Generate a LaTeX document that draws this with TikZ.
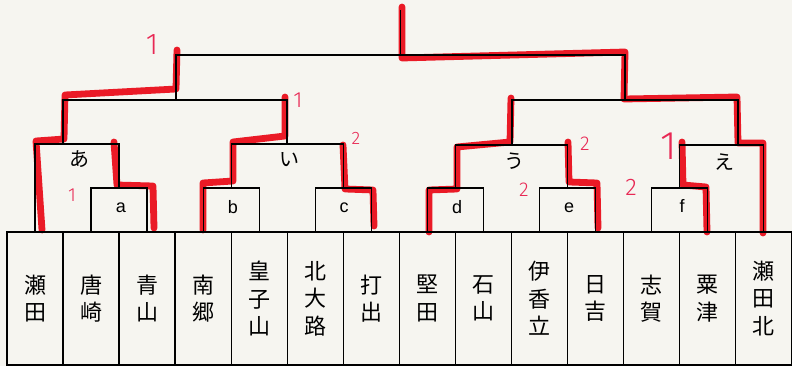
\documentclass[tikz,border=0pt]{standalone}
\usepackage{fontspec}
\setmainfont{Liberation Sans}
\newfontfamily\jp{Noto Sans CJK JP}
\IfFontExistsTF{Fira Sans Light}{\newfontfamily\hand{Fira Sans Light}}{\newfontfamily\hand{Liberation Sans}}
\definecolor{paper}{RGB}{246,245,240}
\definecolor{marker}{RGB}{234,26,38}
\definecolor{pen}{RGB}{232,40,84}
\begin{document}
\begin{tikzpicture}[x=1pt,y=-1pt,
  team/.style={draw, line width=1.3pt, minimum width=56.05pt, minimum height=133pt,
    inner sep=0pt, align=center, font=\jp\fontsize{22}{27.5}\selectfont},
  bracket/.style={line width=1.3pt, black},
  win/.style={marker, line width=6.8pt, line cap=round, line join=round},
  pool/.style={inner sep=0pt, font=\jp\fontsize{20}{20}\selectfont},
  match/.style={inner sep=0pt, font=\fontsize{18}{18}\selectfont},
  score/.style={text=pen, inner sep=0pt, font=\hand\fontsize{20}{20}\selectfont}]
\fill[paper] (0,0) rectangle (792,366);
\useasboundingbox (0,0) rectangle (792,366);

% winners' marker strokes (under the printed lines)
\draw[win] (42,230) -- (36,141) -- (64,139) -- (65,95) -- (176,89) -- (177,50);
\draw[win] (154,228) -- (153,186) -- (117,185) -- (114,142);
\draw[win] (203,230) -- (203,183) -- (233,181) -- (233,142) -- (285,136) -- (285,97);
\draw[win] (374,226) -- (373,190) -- (345,189) -- (343,145);
\draw[win] (429,232) -- (429,190) -- (457,189) -- (457,147) -- (510,142) -- (511,98);
\draw[win] (598,228) -- (597,183) -- (569,182) -- (568,142);
\draw[win] (402,7) -- (402,58) -- (625,52) -- (624,99) -- (737,97) -- (738,143) -- (763,143) -- (763,233);
\draw[win] (707,232) -- (706,187) -- (683,185) -- (682,142);

% team boxes
\node[team] (t1)  at (35.0,298.5)  {瀬\\田};
\node[team] (t2)  at (91.1,298.5)  {唐\\崎};
\node[team] (t3)  at (147.1,298.5) {青\\山};
\node[team] (t4)  at (203.2,298.5) {南\\郷};
\node[team] (t5)  at (259.2,298.5) {皇\\子\\山};
\node[team] (t6)  at (315.3,298.5) {北\\大\\路};
\node[team] (t7)  at (371.3,298.5) {打\\出};
\node[team] (t8)  at (427.4,298.5) {堅\\田};
\node[team] (t9)  at (483.4,298.5) {石\\山};
\node[team] (t10) at (539.5,298.5) {伊\\香\\立};
\node[team] (t11) at (595.5,298.5) {日\\吉};
\node[team] (t12) at (651.6,298.5) {志\\賀};
\node[team] (t13) at (707.6,298.5) {粟\\津};
\node[team] (t14) at (763.7,298.5) {瀬\\田\\北};

% junctions
\coordinate (a) at (119.1,188);
\coordinate (b) at (231.2,188);
\coordinate (c) at (343.3,188);
\coordinate (d) at (455.4,188);
\coordinate (e) at (567.5,188);
\coordinate (f) at (679.6,188);
\coordinate (A) at (63,144);
\coordinate (I) at (287,144);
\coordinate (U) at (512,145);
\coordinate (E) at (738,145);
\coordinate (L) at (176,100);
\coordinate (R) at (625,100);
\coordinate (F) at (400.5,55);
\coordinate (top) at (400.5,10);

% bracket lines
\draw[bracket] (t2.north) |- (a) -| (t3.north);
\draw[bracket] (t1.north) |- (A) -| (a);
\draw[bracket] (t4.north) |- (b) -| (t5.north);
\draw[bracket] (t6.north) |- (c) -| (t7.north);
\draw[bracket] (b) |- (I) -| (c);
\draw[bracket] (t8.north) |- (d) -| (t9.north);
\draw[bracket] (t10.north) |- (e) -| (t11.north);
\draw[bracket] (d) |- (U) -| (e);
\draw[bracket] (t12.north) |- (f) -| (t13.north);
\draw[bracket] (f) |- (E) -| (t14.north);
\draw[bracket] (A) |- (L) -| (I);
\draw[bracket] (U) |- (R) -| (E);
\draw[bracket] (L) |- (F) -| (R);
\draw[bracket] (F) -- (top);

% match labels
\node[match] (la) at (121,208) {a};
\node[match] (lb) at (233,207.5) {b};
\node[match] (lc) at (344,208) {c};
\node[match] (ld) at (457,207.5) {d};
\node[match] (le) at (569,208) {e};
\node[match] (lf) at (682,205.5) {f};

% pool labels
\node[pool] (pa) at (79,159) {あ};
\node[pool] (pi) at (289,160) {い};
\node[pool] (pu) at (514,161) {う};
\node[pool] (pe) at (724,162) {え};

% handwritten scores
\node[score, font=\hand\fontsize{30}{30}\selectfont] (s1) at (152,45) {1};
\node[score, font=\hand\fontsize{22}{22}\selectfont] (s2) at (298,100) {1};
\node[score, font=\hand\fontsize{18}{18}\selectfont] (s3) at (356,138) {2};
\node[score, font=\hand\fontsize{19}{19}\selectfont] (s4) at (72,195) {1};
\node[score] (s5) at (585,144) {2};
\node[score] (s6) at (524,190) {2};
\node[score, font=\hand\fontsize{24}{24}\selectfont] (s7) at (631,187) {2};
\node[score, font=\hand\fontsize{40}{40}\selectfont] (s8) at (669,146) {1};
\end{tikzpicture}
\end{document}
